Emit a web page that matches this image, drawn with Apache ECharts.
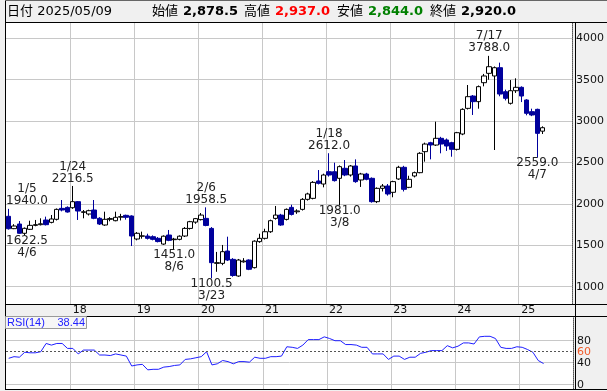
<!DOCTYPE html>
<html><head><meta charset="utf-8">
<script src="https://cdn.jsdelivr.net/npm/echarts@6/dist/echarts.min.js"></script>
<style>html,body{margin:0;padding:0;background:#f0f0f0}#c{width:607px;height:391px}</style>
</head><body><div id="c"></div><script>
// ---- data (monthly, 2017/01 .. 2025/05) ----
const opens = [
1850,1701,1757,1645,1693,1741,1749,1805,1777,1814,
1946,1958,1954,2027,1898,1878,1926,1826,1745,1814,
1797,1840,1862,1854,1576,1610,1612,1604,1584,1515,
1624,1568,1572,1612,1704,1780,1810,1825,1704,1282,
1282,1431,1330,1129,1300,1322,1230,1544,1584,1664,
1825,1865,1813,1958,1905,1934,2055,2067,2277,2240,
2389,2389,2309,2430,2349,2458,2289,2361,2309,2027,
2188,2216,2140,2301,2442,2200,2337,2377,2631,2739,
2711,2792,2772,2739,2659,2844,3154,3303,3235,3464,
3577,3545,3645,3355,3215,3367,3408,3255,3114,3142,
2878.5];
const closes = [
1700,1733,1645,1705,1741,1749,1760,1749,1818,1934,
1926,1902,2027,1914,1905,1918,1826,1757,1814,1822,
1838,1846,1838,1612,1645,1614,1584,1572,1545,1610,
1560,1575,1610,1704,1785,1822,1865,1740,1290,1290,
1423,1322,1135,1322,1310,1210,1550,1584,1664,1797,
1865,1745,1934,1873,1915,2055,2120,2260,2248,2349,
2349,2281,2450,2349,2458,2269,2361,2297,2027,2188,
2216,2120,2269,2442,2176,2297,2377,2611,2723,2711,
2792,2723,2699,2659,2860,3142,3295,3235,3416,3545,
3657,3645,3327,3275,3367,3408,3303,3094,3074,2852,
2920];
const lows = [
1690,1695,1640,1622.5,1685,1730,1740,1740,1765,1800,
1910,1895,1940,1806,1826,1860,1815,1745,1735,1790,
1790,1800,1810,1491,1560,1580,1570,1560,1535,1505,
1550,1451,1560,1600,1690,1760,1800,1730,1100.5,1180,
1260,1310,1120,1120,1290,1200,1220,1530,1570,1650,
1810,1735,1800,1860,1880,1920,2040,2055,2235,2200,
2330,2270,1981,2335,2330,2255,2205,2285,2015,2010,
2150,2100,2080,2290,2150,2190,2320,2370,2510,2538,
2700,2611,2640,2570,2645,2830,3140,3074,3150,3420,
3500,2651,3300,3250,3200,3340,3230,3070,3060,2559,
2844];
const highs = [
1940,1755,1793,1715,1797,1806,1826,1846,1866,1945,
2047,1970,2216.5,2035,1926,1930,2047,1840,1906,1840,
1906,1880,1870,1862,1660,1665,1640,1620,1600,1620,
1685,1590,1620,1720,1795,1830,1890,1958.5,1720,1420,
1504,1604,1345,1335,1345,1330,1560,1640,1700,1810,
1975,1880,1945,1990,1935,2070,2135,2275,2409,2365,
2612,2498,2465,2530,2470,2538,2375,2375,2320,2200,
2240,2240,2280,2460,2460,2340,2390,2625,2740,2750,
2993,2810,2790,2750,2870,3155,3436,3315,3430,3570,
3788,3660,3706,3380,3496,3517,3420,3265,3150,3150,
2937];
const rsi = [
48,51,50,59,58,58,60,75,72,75,
75,66,66,56,63,63,63,54,54,53,
56,54,52,34,36,37,27,28,28,32,
33,35,36,46,47,49,51,60,36,38,
44,42,38,42,42,41,50,48,48,51,
51,52,69,68,66,72,82,82,82,87,
84,80,80,73,73,72,68,68,56,56,
56,46,52,52,46,50,50,57,59,62,
62,62,71,67,70,76,76,74,87,88,
88,84,68,66,66,69,68,64,59,44,
38.44];
const priceTicks = [1000,1500,2000,2500,3000,3500,4000];
const rsiTickLines = [0,40,80];
const rsiTickLabels = [0,40,60,80];
const annIdx  = [0,3,12,31,37,38,60,62,90,99];
const annDate = ['1/5','4/6','1/24','8/6','2/6','3/23','1/18','3/8','7/17','4/7'];
const annKind = ['H','L','H','L','H','L','H','L','H','L'];
const startYear = 2017, slots = 106;

const cats = [];
for (let k = 0; k < slots; k++) {
  const y = startYear + Math.floor(k / 12), m = k % 12 + 1;
  cats.push(y + '/' + String(m).padStart(2, '0'));
}
const isYearStart = (i, v) => v.endsWith('/01') && !v.startsWith(String(startYear));

const FONT = '"DejaVu Sans","Noto Sans CJK JP",sans-serif';
const chart = echarts.init(document.getElementById('c'), null, {renderer: 'canvas'});
const candles = opens.map((o, i) => [o, closes[i], lows[i], highs[i]]);

const option = {
  animation: false,
  backgroundColor: '#f0f0f0',
  grid: [
    {left: 6, right: 34, top: 22, height: 282, show: true, backgroundColor: '#fff', borderWidth: 0},
    {left: 6, right: 34, top: 317, height: 72, show: true, backgroundColor: '#fff', borderWidth: 0}
  ],
  xAxis: [
    {type: 'category', gridIndex: 0, data: cats, boundaryGap: true,
     axisLine: {show: false}, axisTick: {show: false},
     axisLabel: {interval: isYearStart, formatter: v => v.slice(2, 4), align: 'left', margin: 1,
                 fontSize: 11, fontFamily: FONT, color: '#111'},
     splitLine: {show: true, interval: isYearStart, lineStyle: {color: '#c8c8c8', width: 1}}},
    {type: 'category', gridIndex: 1, data: cats, boundaryGap: true,
     axisLine: {show: false}, axisTick: {show: false}, axisLabel: {show: false},
     splitLine: {show: true, interval: isYearStart, lineStyle: {color: '#c8c8c8', width: 1}}}
  ],
  yAxis: [
    {type: 'value', gridIndex: 0, position: 'right', min: 791, max: 4197, scale: true,
     axisLine: {show: true, lineStyle: {color: '#555', type: 'dotted'}},
     axisTick: {show: false, customValues: priceTicks},
     axisLabel: {customValues: priceTicks, formatter: v => String(v), margin: 4,
                 fontSize: 11, fontFamily: FONT, color: '#111'},
     splitLine: {show: true, lineStyle: {color: '#c8c8c8', width: 1}}},
    {type: 'value', gridIndex: 1, position: 'right', min: -7.8, max: 123.1,
     axisLine: {show: true, lineStyle: {color: '#555', type: 'dotted'}},
     axisTick: {show: false, customValues: rsiTickLines},
     axisLabel: {customValues: rsiTickLabels, formatter: v => String(v), margin: 4, fontSize: 11, fontFamily: FONT,
                 color: v => (Number(v) === 60 ? '#f05a28' : '#111')},
     splitLine: {show: true, lineStyle: {color: '#c8c8c8', width: 1}}}
  ],
  series: [
    {type: 'candlestick', xAxisIndex: 0, yAxisIndex: 0, data: candles, barWidth: 5,
     itemStyle: {color: '#ffffff', color0: '#00009c', borderColor: '#000000', borderColor0: '#00009c', borderWidth: 1}},
    {type: 'line', xAxisIndex: 1, yAxisIndex: 1, data: rsi, symbol: 'none',
     lineStyle: {color: '#1f1fff', width: 1},
     markLine: {silent: true, symbol: 'none', label: {show: false},
                lineStyle: {color: '#555', type: [2, 2], width: 1},
                data: [{yAxis: 60}]}}
  ]
};
chart.setOption(option);

// ---- graphics: frame, header, legend, annotations ----
const ctx = document.createElement('canvas').getContext('2d');
ctx.font = '12px ' + FONT;
const g = [];
const line = (x1, y1, x2, y2, c) => g.push({type: 'line', silent: true, z: 50,
  shape: {x1, y1, x2, y2}, style: {stroke: c || '#000', lineWidth: 1}});
line(5.5, 0, 5.5, 390);
line(5, 22.5, 607, 22.5);
line(5, 304.5, 607, 304.5);
line(5, 316.5, 607, 316.5);
line(5, 389.5, 607, 389.5);
line(575.5, 22, 575.5, 390);
line(5, 0.5, 607, 0.5, '#666');

const txt = (text, x, y, font, fill, align) => g.push({type: 'text', silent: true, z: 60,
  style: {text, x, y, font, fill, align: align || 'left', verticalAlign: 'middle'}});
const hf = '13px ' + FONT, hb = 'bold 13px ' + FONT;
txt('日付 2025/05/09', 7, 11.5, hf, '#000');
txt('始値', 152, 11.5, hf, '#000'); txt('2,878.5', 183, 11.5, hb, '#000');
txt('高値', 244, 11.5, hf, '#000'); txt('2,937.0', 275, 11.5, hb, '#ff0000');
txt('安値', 337, 11.5, hf, '#000'); txt('2,844.0', 368, 11.5, hb, '#008000');
txt('終値', 430, 11.5, hf, '#000'); txt('2,920.0', 461, 11.5, hb, '#000');

g.push({type: 'rect', silent: true, z: 55, shape: {x: 5.5, y: 316.5, width: 81, height: 12},
  style: {fill: '#f6f6f6', stroke: '#999', lineWidth: 1}});
const rf = '11px "Liberation Sans",sans-serif';
txt('RSI(14)', 7, 323, rf, '#2020ff');
txt(rsi[rsi.length - 1].toFixed(2), 85, 323, rf, '#2020ff', 'right');

annIdx.forEach((idx, k) => {
  const isH = annKind[k] === 'H';
  const val = isH ? highs[idx] : lows[idx];
  const vs = val.toFixed(1);
  const p = chart.convertToPixel({gridIndex: 0}, [idx, val]);
  const half = Math.max(ctx.measureText(vs).width, ctx.measureText(annDate[k]).width) / 2;
  let cx = Math.max(6 + half, Math.min(573 - half, p[0]));
  g.push({type: 'text', silent: true, z: 40, style: {
    text: isH ? annDate[k] + '\n' + vs : vs + '\n' + annDate[k],
    x: cx, y: isH ? p[1] - 1.5 : p[1] - 0.5,
    font: '12px ' + FONT, fill: '#222', lineHeight: 12,
    align: 'center', verticalAlign: isH ? 'bottom' : 'top'}});
});
chart.setOption({graphic: g});
</script></body></html>
